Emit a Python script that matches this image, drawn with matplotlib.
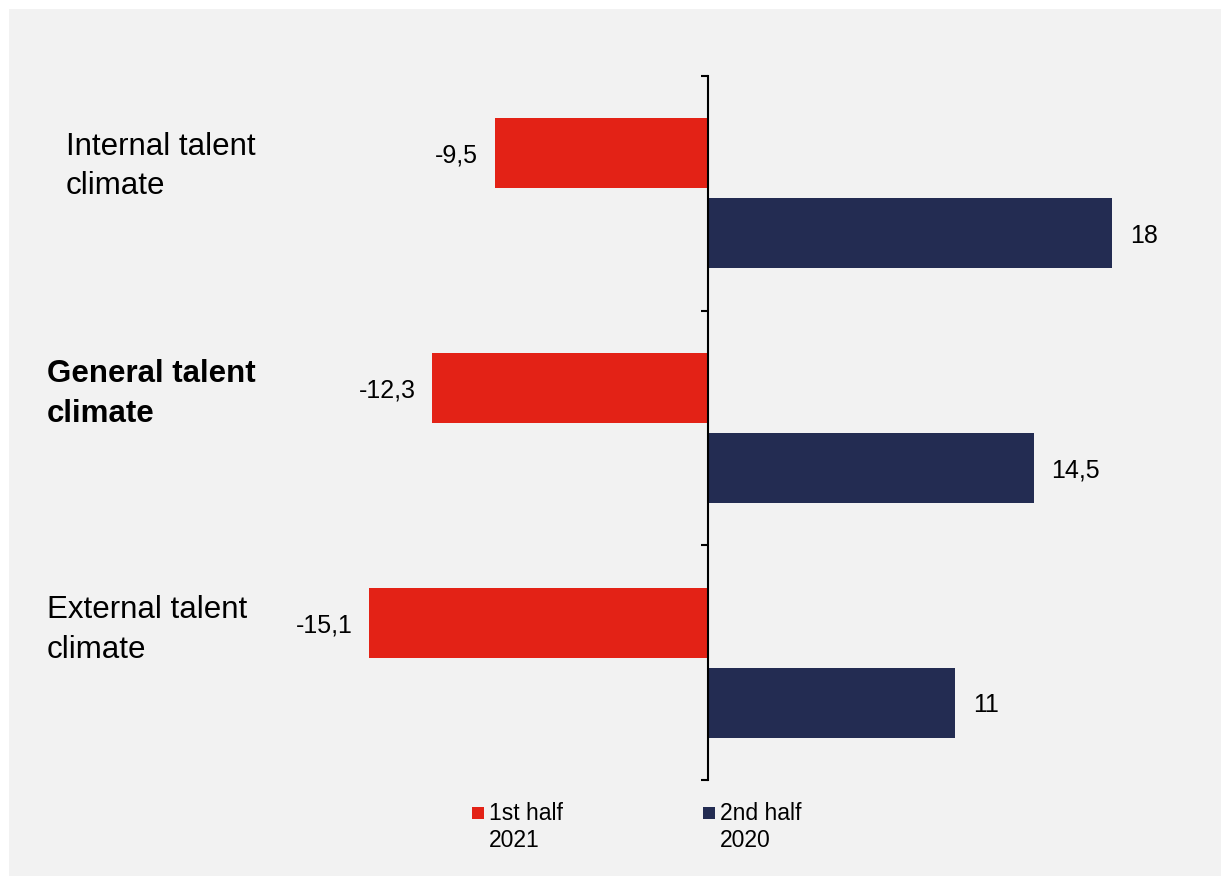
import matplotlib.pyplot as plt
import matplotlib.transforms as mtransforms
from matplotlib.patches import Rectangle
import numpy as np

plt.rcParams['font.family'] = ['Liberation Sans', 'DejaVu Sans']

# data
categories = ['Internal talent\nclimate', 'General talent\nclimate', 'External talent\nclimate']
series_names = ['1st half\n2021', '2nd half\n2020']
values_2021 = [-9.5, -12.3, -15.1]
values_2020 = [18, 14.5, 11]

colors = ['#E32216', '#232C52']
bg = '#F2F2F2'

fig = plt.figure(figsize=(12.21, 8.76), dpi=100, facecolor='white')
# grey panel with a thin white margin top/left
fig.add_artist(Rectangle((9 / 1221, 0), 1, 1 - 9 / 876, transform=fig.transFigure,
                         facecolor=bg, edgecolor='none', zorder=-10))

ax = fig.add_axes([349 / 1221, 96 / 876, 808 / 1221, 704 / 876])
ax.set_facecolor('none')

y = np.arange(len(categories))
h = 0.298
off = 0.17
ax.barh(y - off, values_2021, height=h, color=colors[0], zorder=2)
ax.barh(y + off, values_2020, height=h, color=colors[1], zorder=2)

ax.set_xlim(-16, 20)
ax.set_ylim(len(categories) - 0.5, -0.5)

# value labels
fmt = lambda v: ('%g' % v).replace('.', ',')
for yi, v in zip(y - off, values_2021):
    ax.annotate(fmt(v), (v, yi), xytext=(-12, 0), textcoords='offset points',
                ha='right', va='center_baseline', fontsize=18)
for yi, v in zip(y + off, values_2020):
    ax.annotate(fmt(v), (v, yi), xytext=(13, 0), textcoords='offset points',
                ha='left', va='center_baseline', fontsize=18)

# spines / ticks
for s in ['top', 'right', 'bottom']:
    ax.spines[s].set_visible(False)
ax.spines['left'].set_position(('data', 0))
ax.spines['left'].set_linewidth(1.5)
ax.set_xticks([])
ax.set_yticks(np.arange(len(categories) + 1) - 0.5)
ax.set_yticklabels([])
ax.tick_params(axis='y', direction='out', length=5, width=1.5)

# category labels
trans = mtransforms.blended_transform_factory(fig.transFigure, ax.transData)
label_x = [66 / 1221, 47 / 1221, 47 / 1221]
label_dy = [-0.114, -0.145, -0.14]
weights = ['normal', 'bold', 'normal']
for yi, lab, lx, dy, w in zip(y, categories, label_x, label_dy, weights):
    fig.text(lx, yi + dy, lab, transform=trans, ha='left', va='center',
             fontsize=22.5, fontweight=w, linespacing=1.42)

# legend (manual)
leg_x = [472, 703]
for lx, name, c in zip(leg_x, series_names, colors):
    fig.add_artist(Rectangle((lx / 1221, 1 - 819 / 876), 12 / 1221, 12 / 876,
                             transform=fig.transFigure, facecolor=c, edgecolor='none'))
    fig.text((lx + 17) / 1221, 1 - 802 / 876, name, ha='left', va='top',
             fontsize=16.5, linespacing=1.22)

fig.savefig('out.png', dpi=100, facecolor=fig.get_facecolor())
